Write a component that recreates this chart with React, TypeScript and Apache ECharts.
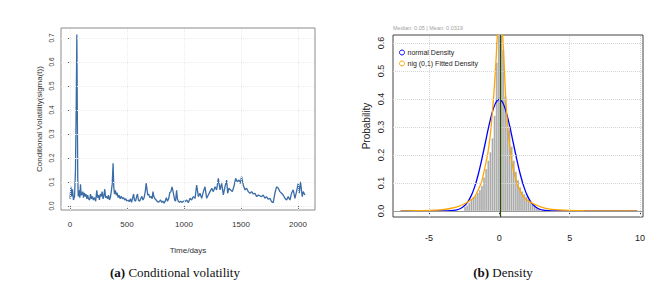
import React, { useEffect, useRef } from "react";
import * as echarts from "echarts";

// ---------- Panel (a): conditional volatility ----------
const volTicksX = [0, 500, 1000, 1500, 2000];
const volTicksY = [0, 0.1, 0.2, 0.3, 0.4, 0.5, 0.6, 0.7];
const volDays = [
  0, 8, 15, 22, 30, 40, 48, 55, 60, 64, 68, 72, 80, 86, 92, 98, 105, 112, 118, 125, 132, 140, 148, 155, 162, 172, 180, 188, 196, 205,
  215, 225, 235, 242, 250, 258, 266, 274, 282, 290, 298, 305, 312, 320, 330, 338, 346, 354, 362, 370, 378, 384, 390, 398, 406, 414, 422, 430, 440, 450,
  460, 470, 480, 490, 500, 510, 520, 530, 540, 550, 558, 565, 575, 585, 592, 600, 610, 620, 630, 640, 650, 660, 668, 675, 682, 690, 700, 710, 720, 728,
  735, 745, 755, 765, 775, 785, 795, 805, 815, 825, 835, 845, 855, 865, 875, 885, 895, 902, 910, 918, 926, 935, 942, 950, 960, 970, 980, 990, 1000,
  1009, 1024, 1038, 1053, 1067, 1082, 1097, 1111, 1126, 1140, 1155, 1170, 1184, 1199, 1213, 1228, 1243, 1257, 1272, 1286, 1301, 1316, 1330, 1345, 1359,
  1374, 1383, 1394, 1409, 1424, 1441, 1453, 1467, 1482, 1494, 1505, 1520, 1535, 1549, 1564, 1578, 1593, 1608, 1622, 1637, 1651, 1666, 1681, 1695,
  1710, 1724, 1739, 1754, 1768, 1783, 1797, 1812, 1827, 1841, 1856, 1870, 1885, 1900, 1914, 1929, 1943, 1958, 1973, 1987, 2002, 2011, 2022, 2037, 2046, 2060,
];
const volValues = [
  0.03, 0.08, 0.04, 0.07, 0.025, 0.04, 0.15, 0.45, 0.715, 0.4, 0.12, 0.04, 0.065, 0.035, 0.09, 0.045, 0.05, 0.06, 0.035, 0.055, 0.04, 0.05, 0.03, 0.045, 0.03, 0.025, 0.05, 0.03, 0.04, 0.025,
  0.035, 0.02, 0.065, 0.035, 0.045, 0.025, 0.05, 0.04, 0.06, 0.03, 0.045, 0.07, 0.035, 0.04, 0.03, 0.045, 0.025, 0.035, 0.06, 0.09, 0.178, 0.08, 0.05, 0.065, 0.045, 0.055, 0.035, 0.045, 0.03, 0.04,
  0.03, 0.035, 0.025, 0.03, 0.02, 0.025, 0.018, 0.03, 0.015, 0.035, 0.05, 0.025, 0.02, 0.04, 0.05, 0.025, 0.02, 0.03, 0.04, 0.025, 0.035, 0.06, 0.095, 0.07, 0.045, 0.05, 0.035, 0.04, 0.03, 0.06,
  0.04, 0.03, 0.025, 0.02, 0.015, 0.02, 0.025, 0.015, 0.02, 0.012, 0.02, 0.035, 0.02, 0.03, 0.055, 0.06, 0.08, 0.065, 0.045, 0.025, 0.02, 0.065, 0.03, 0.02, 0.015, 0.02, 0.015, 0.018, 0.02,
  0.018, 0.025, 0.014, 0.032, 0.025, 0.039, 0.032, 0.0875, 0.039, 0.053, 0.032, 0.06, 0.08, 0.032, 0.046, 0.06, 0.074, 0.06, 0.08, 0.067, 0.115, 0.067, 0.094, 0.046, 0.08,
  0.108, 0.053, 0.074, 0.067, 0.06, 0.0875, 0.115, 0.101, 0.108, 0.094, 0.122, 0.0875, 0.067, 0.074, 0.06, 0.053, 0.06, 0.05, 0.053, 0.039, 0.046, 0.042, 0.039, 0.046,
  0.032, 0.039, 0.028, 0.032, 0.018, 0.014, 0.053, 0.08, 0.074, 0.06, 0.053, 0.046, 0.032, 0.025, 0.039, 0.025, 0.053, 0.067, 0.032, 0.06, 0.094, 0.053, 0.101, 0.039, 0.06, 0.046,
];

// ---------- Panel (b): density ----------
const densTicksX = [-5, 0, 5, 10];
const densTicksY = [0, 0.1, 0.2, 0.3, 0.4, 0.5, 0.6];
const histBinWidth = 0.15;
const histBinStarts = [
  -2.5, -2.35, -2.2, -2.05, -1.9, -1.75, -1.6, -1.45, -1.3, -1.15, -1.0, -0.85, -0.7, -0.55, -0.4, -0.25, -0.1, 0.05,
  0.2, 0.35, 0.5, 0.65, 0.8, 0.95, 1.1, 1.25, 1.4, 1.55, 1.7, 1.85, 2.0, 2.15, 2.3, 2.45, 2.6, 2.75,
];
const histHeights = [
  0.015, 0.02, 0.03, 0.04, 0.05, 0.055, 0.065, 0.075, 0.09, 0.12, 0.15, 0.18, 0.21, 0.26, 0.34, 0.53, 0.68, 0.66,
  0.575, 0.41, 0.33, 0.29, 0.23, 0.18, 0.14, 0.11, 0.085, 0.07, 0.06, 0.05, 0.04, 0.032, 0.025, 0.02, 0.012, 0.008,
];
const normalX = [-7, -4, -3.5, -3, -2.75, -2.5, -2.25, -2, -1.75, -1.5, -1.25, -1, -0.75, -0.5, -0.25, 0, 0.25, 0.5, 0.75, 1, 1.25, 1.5, 1.75, 2, 2.25, 2.5, 2.75, 3, 3.5, 4, 9.8];
const normalY = [0, 0.0001, 0.0009, 0.0044, 0.0091, 0.0175, 0.0317, 0.054, 0.0863, 0.1295, 0.1826, 0.242, 0.3011, 0.3521, 0.3867, 0.3989, 0.3867, 0.3521, 0.3011, 0.242, 0.1826, 0.1295, 0.0863, 0.054, 0.0317, 0.0175, 0.0091, 0.0044, 0.0009, 0.0001, 0];
const nigX = [-7, -6, -5, -4, -3.5, -3, -2.5, -2, -1.75, -1.5, -1.25, -1, -0.8, -0.6, -0.4, -0.25, -0.15, 0.05, 0.25, 0.35, 0.45, 0.6, 0.8, 0.95, 1.25, 1.5, 1.75, 2, 2.5, 3, 3.5, 4, 5, 6, 7, 9.8];
const nigY = [0.0005, 0.001, 0.002, 0.005, 0.009, 0.015, 0.025, 0.04, 0.05, 0.075, 0.105, 0.16, 0.21, 0.29, 0.41, 0.52, 0.62, 0.78, 0.62, 0.52, 0.41, 0.3, 0.21, 0.16, 0.1, 0.07, 0.048, 0.038, 0.024, 0.014, 0.008, 0.005, 0.002, 0.001, 0.0005, 0.0001];
const medianValue = 0.05;
const subtitleText = "Median: 0.05 | Mean: 0.0319";

const NARROW = "'Liberation Sans Narrow', 'Liberation Sans', Arial, sans-serif";
const SANS = "'Liberation Sans', Arial, sans-serif";
const SERIF = "'Liberation Serif', 'Times New Roman', serif";

export default function App() {
  const ref = useRef<HTMLDivElement>(null);
  useEffect(() => {
    if (!ref.current) return;
    const chart = echarts.init(ref.current, undefined, { renderer: "svg" });
    const gridLines = (xs: number[], ys: number[], color: string) => ({
      silent: true,
      symbol: ["none", "none"],
      label: { show: false },
      lineStyle: { type: "dotted", color, width: 1 },
      data: [...ys.map((v) => ({ yAxis: v })), ...xs.map((v) => ({ xAxis: v }))],
    });
    const option: any = {
      animation: false,
      backgroundColor: "#fff",
      grid: [
        { left: 61, right: 346, top: 28, bottom: 75, show: true, borderColor: "#8a8a8a", borderWidth: 1 },
        { left: 393, right: 18, top: 35, bottom: 68, show: true, borderColor: "#444", borderWidth: 1 },
      ],
      xAxis: [
        {
          gridIndex: 0,
          type: "value",
          min: -79,
          max: 2149,
          name: "Time/days",
          nameLocation: "middle",
          nameGap: 36,
          nameTextStyle: { fontFamily: NARROW, fontSize: 8, color: "#333" },
          axisLine: { show: false },
          splitLine: { show: false },
          axisTick: { show: true, length: 3, customValues: volTicksX, lineStyle: { color: "#666" } },
          axisLabel: { customValues: volTicksX, fontFamily: NARROW, fontSize: 8, color: "#333", margin: 10, formatter: (v: number) => String(v) },
        },
        {
          gridIndex: 1,
          type: "value",
          min: -7.55,
          max: 10.21,
          axisLine: { show: false },
          splitLine: { show: false },
          axisTick: { show: true, length: 4, customValues: densTicksX, lineStyle: { color: "#333" } },
          axisLabel: { customValues: densTicksX, fontFamily: NARROW, fontSize: 9, color: "#222", margin: 16, formatter: (v: number) => String(v) },
        },
      ],
      yAxis: [
        {
          gridIndex: 0,
          type: "value",
          min: -0.01667,
          max: 0.74167,
          name: "Conditional Volatility(sigma(t))",
          nameLocation: "middle",
          nameGap: 18,
          nameTextStyle: { fontFamily: SANS, fontSize: 8, color: "#333" },
          axisLine: { show: false },
          splitLine: { show: false },
          axisTick: { show: true, length: 3, customValues: volTicksY, lineStyle: { color: "#666" } },
          axisLabel: {
            customValues: volTicksY,
            rotate: 90,
            fontFamily: SANS,
            fontSize: 6.5,
            color: "#333",
            margin: 6,
            formatter: (v: number) => v.toFixed(1),
          },
        },
        {
          gridIndex: 1,
          type: "value",
          min: -0.0214,
          max: 0.6286,
          name: "Probability",
          nameLocation: "middle",
          nameGap: 22,
          nameTextStyle: { fontFamily: SANS, fontSize: 10, color: "#222" },
          axisLine: { show: false },
          splitLine: { show: false },
          axisTick: { show: true, length: 4, customValues: densTicksY, lineStyle: { color: "#333" } },
          axisLabel: {
            customValues: densTicksY,
            rotate: 90,
            fontFamily: SANS,
            fontSize: 9,
            color: "#222",
            margin: 8,
            formatter: (v: number) => v.toFixed(1),
          },
        },
      ],
      legend: {
        orient: "vertical",
        left: 394,
        top: 44,
        itemGap: 4,
        itemWidth: 5,
        itemHeight: 5,
        icon: "circle",
        textStyle: { fontFamily: NARROW, fontSize: 7, color: "#222", padding: [0, 0, 0, -2] },
        data: [
          { name: "normal Density", itemStyle: { color: "rgba(0,0,0,0)", borderColor: "#0000ff", borderWidth: 1 } },
          { name: "nig (0,1) Fitted Density", itemStyle: { color: "rgba(0,0,0,0)", borderColor: "#ffa500", borderWidth: 1 } },
        ],
      },
      series: [
        {
          type: "line",
          xAxisIndex: 0,
          yAxisIndex: 0,
          data: [],
          z: 1,
          markLine: gridLines(volTicksX, volTicksY, "#ebebeb"),
        },
        {
          name: "volatility",
          type: "line",
          xAxisIndex: 0,
          yAxisIndex: 0,
          showSymbol: false,
          z: 3,
          lineStyle: { color: "#3a6da6", width: 1.3 },
          data: volDays.map((d, i) => [d, volValues[i]]),
        },
        {
          type: "line",
          xAxisIndex: 1,
          yAxisIndex: 1,
          data: [],
          z: 1,
          markLine: {
            silent: true,
            symbol: ["none", "none"],
            label: { show: false },
            data: [
              ...densTicksY.slice(1).map((v) => ({ yAxis: v, lineStyle: { type: "dotted", color: "#d4d4d4", width: 1 } })),
              ...densTicksX.map((v) => ({ xAxis: v, lineStyle: { type: "dotted", color: "#d4d4d4", width: 1 } })),
              { yAxis: 0, lineStyle: { type: "solid", color: "#9a9a9a", width: 1 } },
            ],
          },
        },
        {
          name: "histogram",
          type: "custom",
          xAxisIndex: 1,
          yAxisIndex: 1,
          z: 2,
          encode: { x: [0, 1], y: 2 },
          data: histBinStarts.map((s, i) => [s, s + histBinWidth, histHeights[i]]),
          renderItem: (params: any, api: any) => {
            const p0 = api.coord([api.value(0), 0]);
            const p1 = api.coord([api.value(1), api.value(2)]);
            const shape = echarts.graphic.clipRectByRect(
              { x: p0[0], y: p1[1], width: p1[0] - p0[0], height: p0[1] - p1[1] },
              { x: params.coordSys.x, y: params.coordSys.y, width: params.coordSys.width, height: params.coordSys.height }
            );
            return shape && { type: "rect", shape, style: { fill: "#a9a9a9", stroke: "#ffffff", lineWidth: 0.3 } };
          },
        },
        {
          name: "normal Density",
          type: "line",
          xAxisIndex: 1,
          yAxisIndex: 1,
          showSymbol: false,
          smooth: 0.3,
          z: 3,
          itemStyle: { color: "#0000ff" },
          lineStyle: { color: "#0000ff", width: 1.3 },
          data: normalX.map((x, i) => [x, normalY[i]]),
        },
        {
          name: "nig (0,1) Fitted Density",
          type: "line",
          xAxisIndex: 1,
          yAxisIndex: 1,
          showSymbol: false,
          smooth: 0.2,
          z: 3,
          itemStyle: { color: "#ffa500" },
          lineStyle: { color: "#ffa500", width: 1.3 },
          data: nigX.map((x, i) => [x, nigY[i]]),
        },
        {
          type: "line",
          xAxisIndex: 1,
          yAxisIndex: 1,
          data: [],
          z: 5,
          markLine: {
            silent: true,
            symbol: ["none", "none"],
            label: { show: false },
            lineStyle: { type: "solid", color: "#2d4a00", width: 1.2 },
            data: [{ xAxis: medianValue }],
          },
        },
      ],
      graphic: [
        {
          type: "text",
          style: { text: subtitleText, x: 393, y: 31, textVerticalAlign: "bottom", fontFamily: NARROW, fontSize: 5.5, fill: "#a0a0a0" },
        },
        {
          type: "text",
          style: {
            text: "{b|(a)} Conditional volatility",
            x: 175,
            y: 272,
            textAlign: "center",
            textVerticalAlign: "middle",
            fontFamily: SERIF,
            fontSize: 13,
            fill: "#111",
            rich: { b: { fontFamily: SERIF, fontSize: 13, fontWeight: "bold", fill: "#111" } },
          },
        },
        {
          type: "text",
          style: {
            text: "{b|(b)} Density",
            x: 503,
            y: 272,
            textAlign: "center",
            textVerticalAlign: "middle",
            fontFamily: SERIF,
            fontSize: 13,
            fill: "#111",
            rich: { b: { fontFamily: SERIF, fontSize: 13, fontWeight: "bold", fill: "#111" } },
          },
        },
      ],
    };
    chart.setOption(option);
    return () => chart.dispose();
  }, []);
  return <div ref={ref} style={{ position: "absolute", left: 0, top: 0, width: 661, height: 285 }} />;
}
